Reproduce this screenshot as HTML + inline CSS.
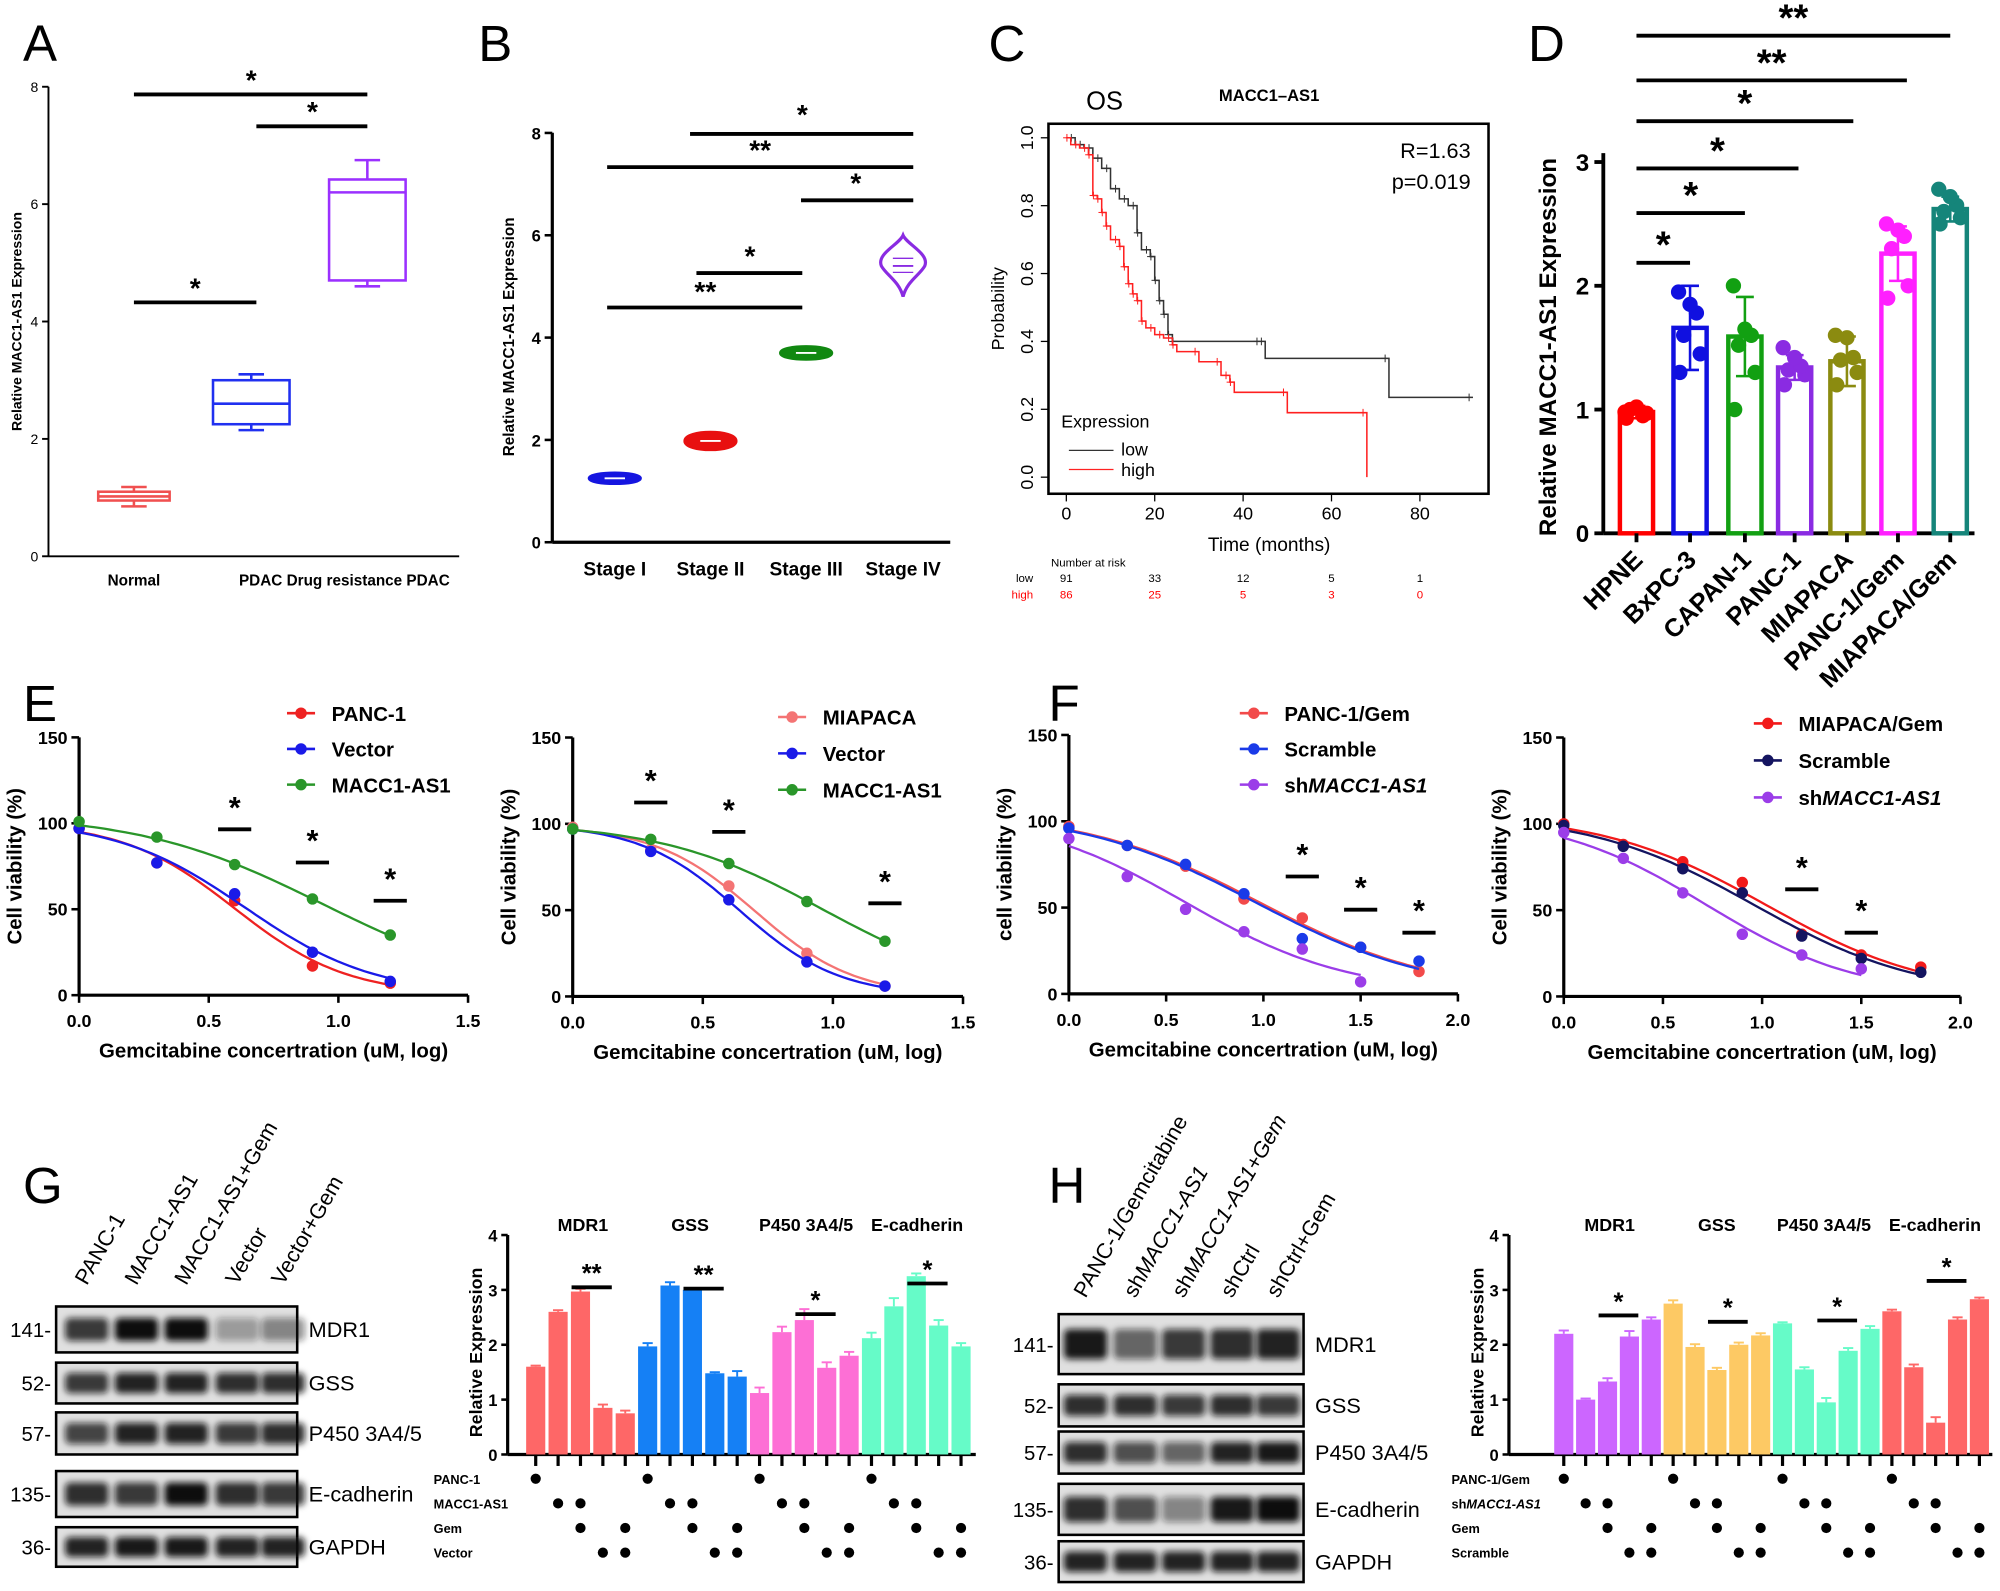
<!DOCTYPE html>
<html><head><meta charset="utf-8"><style>
html,body{margin:0;padding:0;background:#fff;}
svg{display:block;font-family:"Liberation Sans",Arial,sans-serif;}
</style></head><body>
<svg id="fig" width="2000" height="1591" viewBox="0 0 1568 1247" preserveAspectRatio="none" xmlns="http://www.w3.org/2000/svg">
<defs><filter id="blur" x="-20%" y="-50%" width="140%" height="200%"><feGaussianBlur stdDeviation="2.5"/></filter></defs>
</svg>
<script>
// ---------- DATA ----------
const boxCats=["Normal","PDAC","Drug resistance PDAC"];
const boxMin=[0.85,2.15,4.6],boxQ1=[0.95,2.25,4.7],boxMed=[1.02,2.6,6.2],boxQ3=[1.1,3.0,6.42],boxMax=[1.18,3.1,6.75];
const violinCats=["Stage I","Stage II","Stage III","Stage IV"];
const violinVals=[1.25,1.98,3.7,5.4];
const violinSpread=[0.1,0.2,0.13,0.55];
const kmLowT=[0,2,4,6,8,10,12,14,16,17,19,20,21,22,23,24,25,44,45,73,92];
const kmLowS=[1,0.98,0.97,0.94,0.91,0.85,0.82,0.8,0.72,0.67,0.65,0.58,0.52,0.48,0.42,0.4,0.4,0.4,0.35,0.235,0.235];
const kmHighT=[0,1,3,5,6,7,8,9,10,12,13,14,15,16,17,18,20,22,24,25,30,35,37,38,50,68];
const kmHighS=[1,0.98,0.97,0.95,0.83,0.82,0.78,0.74,0.7,0.68,0.62,0.57,0.54,0.52,0.46,0.44,0.42,0.41,0.39,0.37,0.34,0.3,0.28,0.25,0.19,0.0];
const dCats=["HPNE","BxPC-3","CAPAN-1","PANC-1","MIAPACA","PANC-1/Gem","MIAPACA/Gem"];
const dMeans=[0.98,1.66,1.59,1.34,1.39,2.26,2.62];
const dErr=[0.05,0.34,0.32,0.1,0.2,0.22,0.1];
const dPts=[[0.93,0.97,1.0,0.95,1.02,0.98],[1.3,1.45,1.6,1.78,1.85,1.95],[1.0,1.3,1.52,1.6,1.65,2.0],[1.2,1.28,1.32,1.35,1.42,1.5],[1.2,1.3,1.4,1.42,1.58,1.6],[1.9,2.0,2.3,2.4,2.45,2.5],[2.5,2.55,2.6,2.65,2.72,2.78]];
const dColors=["#ff0000","#1010e0","#12a012","#8a2be2","#8b8b10","#ff20ff","#15857a"];
const e1X=[0,0.3,0.6,0.9,1.2];
const e1Panc=[97,77,55,17,7],e1Vec=[97,77,59,25,8],e1Macc=[101,92,76,56,35];
const e2X=[0,0.3,0.6,0.9,1.2];
const e2Mia=[98,85,64,25,6],e2Vec=[97,84,56,20,6],e2Macc=[97,91,77,55,32];
const f1X=[0,0.3,0.6,0.9,1.2,1.5,1.8];
const f1Panc=[97,86,74,55,44,27,13],f1Scr=[96,86,75,58,32,27,19],f1ShX=[0,0.3,0.6,0.9,1.2,1.5],f1Sh=[90,68,49,36,26,7];
const f2X=[0,0.3,0.6,0.9,1.2,1.5,1.8];
const f2Mia=[100,88,78,66,36,24,17],f2Scr=[99,87,74,60,35,22,14],f2ShX=[0,0.3,0.6,0.9,1.2,1.5],f2Sh=[95,80,60,36,24,16];
const gVals=[1.6,2.6,2.97,0.85,0.75, 1.97,3.08,3.0,1.48,1.42, 1.12,2.23,2.45,1.58,1.8, 2.12,2.7,3.25,2.35,1.97];
const gErr=[0.02,0.03,0.05,0.06,0.05, 0.06,0.06,0.01,0.02,0.1, 0.1,0.1,0.2,0.1,0.07, 0.1,0.15,0.05,0.1,0.06];
const gColors=["#fe6767","#1580f5","#fd6fd5","#66fbc8"];
const hVals=[2.2,1.0,1.33,2.15,2.46, 2.75,1.96,1.54,2.0,2.17, 2.39,1.55,0.95,1.89,2.29, 2.61,1.59,0.58,2.46,2.83];
const hErr=[0.06,0.02,0.06,0.1,0.04, 0.06,0.05,0.04,0.04,0.04, 0.02,0.04,0.08,0.05,0.05, 0.03,0.05,0.1,0.04,0.03];
const hColors=["#cc66ff","#fdc964","#66fbc8","#fe6767"];
const gBandNames=["MDR1","GSS","P450 3A4/5","E-cadherin","GAPDH"];
const gMW=["141-","52-","57-","135-","36-"];
const gInt=[[0.8,1,1,0.35,0.45],[0.8,0.9,0.9,0.85,0.85],[0.75,0.9,0.9,0.8,0.85],[0.85,0.8,1,0.85,0.8],[0.9,0.95,0.95,0.9,0.9]];
const hInt=[[0.95,0.6,0.8,0.85,0.9],[0.85,0.85,0.8,0.85,0.8],[0.85,0.7,0.6,0.9,0.95],[0.85,0.7,0.45,0.95,1],[0.9,0.9,0.9,0.9,0.9]];

// ---------- HELPERS ----------
const S=document.getElementById('fig');const NS="http://www.w3.org/2000/svg";
function mk(tag,at,name,inter){const el=document.createElementNS(NS,tag);for(const k in at)el.setAttribute(k,at[k]);


S.appendChild(el);return el;}
function line(x1,y1,x2,y2,w,c,n){return mk('line',{x1,y1,x2,y2,stroke:c||'#000','stroke-width':w||2},n||'axis-line');}
function txt(x,y,s,sz,o,n){o=o||{};const a={x,y,'font-size':sz,'font-weight':o.w||'bold',fill:o.c||'#000','text-anchor':o.a||'middle'};
if(o.r!==undefined)a.transform=`rotate(${o.r} ${x} ${y})`;if(o.i)a['font-style']='italic';const t=mk('text',a,n||'label');t.textContent=s;return t;}
function star(x,y,x1,x2,ly,s,sz,n){line(x1,ly,x2,ly,3,'#000',n+'-bar');txt(x,y,s,sz||22,{},n);}
function letter(x,y,s){txt(x,y,s,40,{w:'normal',a:'start'},'panel-letter-'+s.toLowerCase());}

// ---------- A ----------
letter(18,48,"A");
(function(){const ax=38,y0=436,sy=46,Y=v=>y0-v*sy;
line(ax,68,ax,y0,1.5);line(ax,y0,360,y0,1.5);
[0,2,4,6,8].forEach(v=>{line(ax-5,Y(v),ax,Y(v),1.5,'#000','y-tick');txt(ax-8,Y(v)+4,v,11,{a:'end',w:'normal'},'y-tick-label');});
txt(17,252,"Relative MACC1-AS1 Expression",11,{r:-90},'y-axis-title');
const xs=[105,197,288],cs=["#f05050","#2030f0","#9b30ff"];
boxCats.forEach((c,i)=>{const x=xs[i],w=i==0?28:30;
line(x,Y(boxMin[i]),x,Y(boxQ1[i]),2,cs[i],'whisker');line(x,Y(boxQ3[i]),x,Y(boxMax[i]),2,cs[i],'whisker');
line(x-10,Y(boxMin[i]),x+10,Y(boxMin[i]),2,cs[i],'whisker-cap');line(x-10,Y(boxMax[i]),x+10,Y(boxMax[i]),2,cs[i],'whisker-cap');
mk('rect',{x:x-w,y:Y(boxQ3[i]),width:2*w,height:Y(boxQ1[i])-Y(boxQ3[i]),fill:'none',stroke:cs[i],'stroke-width':2},'box-'+i);
line(x-w,Y(boxMed[i]),x+w,Y(boxMed[i]),2,cs[i],'median');});
txt(105,459,"Normal",12,{},'x-label');txt(270,459,"PDAC  Drug resistance PDAC",12,{},'x-label');
star(197,70,105,288,74,"*",22,'sig-a1');star(245,95,201,288,99,"*",22,'sig-a2');star(153,233,105,201,237,"*",22,'sig-a3');})();

// ---------- B ----------
letter(375,48,"B");
(function(){const ax=433,y0=425,sy=40.1,Y=v=>y0-v*sy;
line(ax,104,ax,y0,2.5);line(ax,y0,745,y0,2.5);
[0,2,4,6,8].forEach(v=>{line(ax-6,Y(v),ax,Y(v),2,'#000','y-tick');txt(ax-9,Y(v)+5,v,13,{a:'end'},'y-tick-label');});
txt(403,264,"Relative MACC1-AS1 Expression",12,{r:-90},'y-axis-title');
const xs=[482,557,632,708],cs=["#1515e0","#e81010","#118811","#8a2be2"];
violinCats.forEach((c,i)=>{const x=xs[i],v=violinVals[i],sp=violinSpread[i];
const h=sp*sy+2,w=i==3?17:20,cy=Y(v);
let d;
if(i<3){d=`M${x-w},${cy} C${x-w},${cy-h*0.9} ${x+w},${cy-h*0.9} ${x+w},${cy} C${x+w},${cy+h*0.9} ${x-w},${cy+h*0.9} ${x-w},${cy}Z`;}
else{d=`M${x},${cy-h} C${x+3},${cy-h*0.7} ${x+w+4},${cy-h*0.4} ${x+w},${cy} C${x+w-4},${cy+h*0.3} ${x+3},${cy+h*0.5} ${x},${cy+h} C${x-3},${cy+h*0.5} ${x-w+4},${cy+h*0.3} ${x-w},${cy} C${x-w-4},${cy-h*0.4} ${x-3},${cy-h*0.7} ${x},${cy-h}Z`;}
mk('path',{d,fill:i==3?'#fff':cs[i],stroke:cs[i],'stroke-width':2.5},'violin-'+i);
line(x-8,cy,x+8,cy,1.5,i==3?cs[i]:'#fff','violin-median');
if(i==3){line(x-8,cy-6,x+8,cy-6,1,cs[i],'violin-quartile');line(x-8,cy+5,x+8,cy+5,1,cs[i],'violin-quartile');}
txt(x,451,c,15,{},'x-label');});
star(629,97,541,716,105,"*",22,'sig-b1');star(596,125,476,716,131,"**",22,'sig-b2');star(671,151,628,716,157,"*",22,'sig-b3');star(588,208,546,629,214,"*",22,'sig-b4');star(553,236,476,629,241,"**",22,'sig-b5');})();

// ---------- C ----------
letter(775,48,"C");
(function(){const X=t=>836+t*3.465,Y=p=>374-p*266;
mk('rect',{x:822,y:97,width:345,height:290,fill:'none',stroke:'#000','stroke-width':2},'km-frame');
[0,20,40,60,80].forEach(t=>{line(X(t),387,X(t),393,1,'#000','x-tick');txt(X(t),407,t,14,{w:'normal'},'x-tick-label');});
[0,0.2,0.4,0.6,0.8,1.0].forEach(p=>{line(816,Y(p),822,Y(p),1,'#000','y-tick');txt(810,Y(p),p.toFixed(1),14,{w:'normal',r:-90},'y-tick-label');});
txt(995,432,"Time (months)",15,{w:'normal'},'x-axis-title');txt(787,242,"Probability",14,{w:'normal',r:-90},'y-axis-title');
txt(866,86,"OS",20,{w:'normal'},'os-label');txt(995,79,"MACC1–AS1",13,{},'chart-title');
txt(1153,124,"R=1.63",17,{w:'normal',a:'end'},'hazard-ratio');txt(1153,148,"p=0.019",17,{w:'normal',a:'end'},'p-value');
function steps(T,Sv,c,n){let d=`M${X(T[0])},${Y(Sv[0])}`;for(let i=1;i<T.length;i++){d+=` H${X(T[i])} V${Y(Sv[i])}`;}
mk('path',{d,fill:'none',stroke:c,'stroke-width':1.2},n);
for(let i=1;i<T.length;i++){const x=X(T[i])-3;line(x-3,Y(Sv[i-1]),x+3,Y(Sv[i-1]),0.8,c,'censor');line(x,Y(Sv[i-1])-3,x,Y(Sv[i-1])+3,0.8,c,'censor');}}
steps(kmLowT,kmLowS,'#333','km-low');steps(kmHighT,kmHighS,'#ff2020','km-high');
txt(832,335,"Expression",14,{w:'normal',a:'start'},'legend-title');
line(838,353,873,353,1,'#333','legend-low-line');txt(879,357,"low",14,{w:'normal',a:'start'},'legend-low');
line(838,368,873,368,1,'#f22','legend-high-line');txt(879,373,"high",14,{w:'normal',a:'start'},'legend-high');
txt(824,444,"Number at risk",9,{w:'normal',a:'start'},'risk-title');
const low=[91,33,12,5,1],high=[86,25,5,3,0];
txt(810,456,"low",9,{w:'normal',a:'end'},'risk-low-label');txt(810,469,"high",9,{w:'normal',a:'end',c:'#f00'},'risk-high-label');
[0,20,40,60,80].forEach((t,i)=>{txt(X(t),456,low[i],9,{w:'normal'},'risk-low');txt(X(t),469,high[i],9,{w:'normal',c:'#f00'},'risk-high');});})();

// ---------- D ----------
letter(1198,48,"D");
(function(){const ax=1257,y0=418,sy=97,Y=v=>y0-v*sy,xs=[1283,1325,1368,1407,1448,1488,1529];
line(ax,120,ax,y0,3);line(ax,y0,1548,y0,3);
[0,1,2,3].forEach(v=>{line(ax-7,Y(v),ax,Y(v),3,'#000','y-tick');txt(ax-11,Y(v)+7,v,19,{a:'end'},'y-tick-label');});
txt(1220,272,"Relative MACC1-AS1 Expression",19,{r:-90},'y-axis-title');
dCats.forEach((c,i)=>{const x=xs[i],col=dColors[i];
mk('rect',{x:x-13,y:Y(dMeans[i]),width:26,height:Y(0)-Y(dMeans[i]),fill:'#fff',stroke:col,'stroke-width':3.5},'bar-'+c);
line(x,Y(dMeans[i]-dErr[i]),x,Y(dMeans[i]+dErr[i]),2,col,'error-bar');line(x-7,Y(dMeans[i]+dErr[i]),x+7,Y(dMeans[i]+dErr[i]),2,col,'error-cap');line(x-7,Y(dMeans[i]-dErr[i]),x+7,Y(dMeans[i]-dErr[i]),2,col,'error-cap');
dPts[i].forEach((p,j)=>mk('circle',{cx:x+[-8,8,-5,5,0,-9][j],cy:Y(p),r:6,fill:col},'point'));
line(x,y0,x,y0+7,3,'#000','x-tick');
txt(x+6,y0+22,c,20,{a:'end',r:-45},'x-label');});
const ends=[1325,1368,1410,1453,1495,1529],ys=[206,167,132,95,63,28],ss=["*","*","*","*","**","**"];
ends.forEach((e,i)=>star((1283+e)/2,ys[i]-4,1283,e,ys[i],ss[i],30,'sig-d'+i));})();

// ---------- E/F curves ----------
function fitLogistic(xs,ys){let best=null;
for(let top=85;top<=106;top+=1)for(let x50=0.3;x50<=1.6;x50+=0.02)for(let k=1;k<=8;k+=0.2){
let e=0;for(let i=0;i<xs.length;i++){const p=top/(1+Math.exp(k*(xs[i]-x50)));e+=(p-ys[i])**2;}
if(!best||e<best.e)best={e,top,x50,k};}return best;}
function curvePanel(o){const X=v=>o.x0+v*o.sx,Y=v=>o.y0-v*o.sy;
line(o.x0,o.y0,o.x0,Y(150),2.5);line(o.x0,o.y0,X(o.xmax),o.y0,2.5);
[0,50,100,150].forEach(v=>{line(o.x0-6,Y(v),o.x0,Y(v),2,'#000','y-tick');txt(o.x0-9,Y(v)+5,v,14,{a:'end'},'y-tick-label');});
o.xt.forEach(v=>{line(X(v),o.y0,X(v),o.y0+6,2,'#000','x-tick');txt(X(v),o.y0+25,v.toFixed(1),14,{},'x-tick-label');});
txt((o.x0+X(o.xmax))/2,o.y0+49,"Gemcitabine concertration (uM, log)",16,{},'x-axis-title');
txt(o.x0-45,Y(75),o.ytitle,16,{r:-90},'y-axis-title');
o.series.forEach((s,k)=>{const xs=s.x,ys=s.y;const f=fitLogistic(xs,ys);const xe=xs[xs.length-1];
let d='';for(let j=0;j<=60;j++){const xv=xe*j/60;const yv=f.top/(1+Math.exp(f.k*(xv-f.x50)));d+=(j?' L':'M')+X(xv).toFixed(1)+','+Y(yv).toFixed(1);}
mk('path',{d,fill:'none',stroke:s.c,'stroke-width':1.8},'curve-'+s.n);
xs.forEach((x,i)=>mk('circle',{cx:X(x),cy:Y(ys[i]),r:4.5,fill:s.c},'point-'+s.n));
const ly=o.leg[1]+k*o.leg[2];line(o.leg[0],ly,o.leg[0]+22,ly,2,s.c,'legend-line');mk('circle',{cx:o.leg[0]+11,cy:ly,r:4.5,fill:s.c},'legend-marker');
const t=txt(o.leg[0]+35,ly+6,s.lab,16,{a:'start'},'legend-entry');if(s.sh){t.textContent='sh';const ts=document.createElementNS(NS,'tspan');ts.setAttribute('font-style','italic');ts.textContent='MACC1-AS1';t.appendChild(ts);}});
o.stars.forEach((st,i)=>star(X(st[0]),st[1],X(st[0])-13,X(st[0])+13,st[1]+9,"*",24,'sig-curve'));}
letter(18,565,"E");letter(822,565,"F");
curvePanel({x0:62,y0:780,sx:203.3,sy:1.347,xmax:1.5,xt:[0,0.5,1,1.5],ytitle:"Cell viability  (%)",leg:[225,559,28],
series:[{x:e1X,y:e1Panc,c:'#ee2222',n:'panc1',lab:'PANC-1'},{x:e1X,y:e1Vec,c:'#1a1ae8',n:'vector',lab:'Vector'},{x:e1X,y:e1Macc,c:'#2a962a',n:'macc1',lab:'MACC1-AS1'}],
stars:[[0.6,641],[0.9,667],[1.2,697]]});
curvePanel({x0:449,y0:781,sx:204,sy:1.353,xmax:1.5,xt:[0,0.5,1,1.5],ytitle:"Cell viability  (%)",leg:[610,562,28.5],
series:[{x:e2X,y:e2Mia,c:'#f47474',n:'miapaca',lab:'MIAPACA'},{x:e2X,y:e2Vec,c:'#1a1ae8',n:'vector',lab:'Vector'},{x:e2X,y:e2Macc,c:'#2a962a',n:'macc1',lab:'MACC1-AS1'}],
stars:[[0.3,620],[0.6,643],[1.2,699]]});
curvePanel({x0:838,y0:779,sx:152.5,sy:1.353,xmax:2.0,xt:[0,0.5,1,1.5,2],ytitle:"cell viability  (%)",leg:[972,559,28],
series:[{x:f1X,y:f1Panc,c:'#f24a4a',n:'panc1gem',lab:'PANC-1/Gem'},{x:f1X,y:f1Scr,c:'#1a3ae8',n:'scramble',lab:'Scramble'},{x:f1ShX,y:f1Sh,c:'#9b3de8',n:'sh',lab:'shMACC1-AS1',sh:1}],
stars:[[1.2,678],[1.5,704],[1.8,722]]});
curvePanel({x0:1226,y0:781,sx:155.5,sy:1.353,xmax:2.0,xt:[0,0.5,1,1.5,2],ytitle:"Cell viability  (%)",leg:[1375,567,29],
series:[{x:f2X,y:f2Mia,c:'#f21a1a',n:'miapacagem',lab:'MIAPACA/Gem'},{x:f2X,y:f2Scr,c:'#141460',n:'scramble',lab:'Scramble'},{x:f2ShX,y:f2Sh,c:'#9b3de8',n:'sh',lab:'shMACC1-AS1',sh:1}],
stars:[[1.2,688],[1.5,722]]});

// ---------- blots ----------
function blot(o){o.rows.forEach((r,ri)=>{const y=r[0],h=r[1];
mk('rect',{x:o.x,y,width:o.w,height:h,fill:'#e0e0e0',stroke:'#000','stroke-width':2},'blot-'+o.names[ri]);
o.lanes.forEach((lx,li)=>{const v=o.int[ri][li];mk('rect',{x:lx-o.lw/2,y:y+h*0.25,width:o.lw,height:h*0.5,rx:4,fill:'#111','fill-opacity':v,filter:'url(#blur)'},'band');});
txt(o.x+o.w+9,y+h/2+6,o.names[ri],17,{w:'normal',a:'start'},'band-label');
txt(o.x-4,y+h/2+6,o.mw[ri],16,{w:'normal',a:'end'},'mw-marker');});
o.lanes.forEach((lx,li)=>{const t=txt(lx,o.ly,'',17,{w:'normal',a:'start',r:-60},'lane-label');o.lab[li].forEach(p=>{const s=document.createElementNS(NS,'tspan');if(p[1])s.setAttribute('font-style','italic');s.textContent=p[0];t.appendChild(s);});});}
letter(18,943,"G");letter(822,943,"H");
blot({x:44,w:189,rows:[[1024,36],[1068,32],[1107,33],[1153,36],[1197,31]],lanes:[68,107,146,186,222],lw:34,int:gInt,names:gBandNames,mw:gMW,ly:1008,
lab:[[["PANC-1"]],[["MACC1-AS1"]],[["MACC1-AS1+Gem"]],[["Vector"]],[["Vector+Gem"]]]});
blot({x:830,w:192,rows:[[1030,47],[1085,33],[1122,33],[1163,40],[1208,32]],lanes:[851,890,928,966,1002],lw:34,int:hInt,names:gBandNames,mw:gMW,ly:1018,
lab:[[["PANC-1/Gemcitabine"]],[["sh"],["MACC1-AS1",1]],[["sh"],["MACC1-AS1+Gem",1]],[["shCtrl"]],[["shCtrl+Gem"]]]});

// ---------- bar panels G/H ----------
function barPanel(o){const y0=1140,sy=43,Y=v=>y0-v*sy,X=i=>o.bx0+i*o.p;
line(o.ax,y0,o.ax,968,2.5);line(o.ax,y0,o.ax2,y0,2.5);
[0,1,2,3,4].forEach(v=>{line(o.ax-5,Y(v),o.ax,Y(v),2,'#000','y-tick');txt(o.ax-8,Y(v)+5,v,13,{a:'end'},'y-tick-label');});
txt(o.ax-20,1060,"Relative Expression",14,{r:-90},'y-axis-title');
o.vals.forEach((v,i)=>{const c=o.cols[Math.floor(i/5)];
mk('rect',{x:X(i)-7.5,y:Y(v),width:15,height:Y(0)-Y(v),fill:c},'bar');
line(X(i),Y(v),X(i),Y(v+o.err[i]),1.5,c,'error-bar');line(X(i)-4,Y(v+o.err[i]),X(i)+4,Y(v+o.err[i]),1.5,c,'error-cap');
line(X(i),y0,X(i),y0+9,2.5,'#000','x-tick');
const g=i%5;const rows=[[g==0],[g==1||g==2],[g==2||g==4],[g==3||g==4]];
rows.forEach((on,r)=>{if(on[0])mk('circle',{cx:X(i),cy:1159+r*19.3,r:4,fill:'#000'},'condition-dot');});});
o.rowlab.forEach((l,r)=>{const t=txt(o.lx,1163+r*19.3,'',10,{a:'start'},'condition-label');l.forEach(p=>{const s=document.createElementNS(NS,'tspan');if(p[1])s.setAttribute('font-style','italic');s.textContent=p[0];t.appendChild(s);});});
["MDR1","GSS","P450 3A4/5","E-cadherin"].forEach((n,k)=>txt(o.gx[k],o.gy,n,14,{},'group-title'));
o.sig.forEach((s,k)=>star((X(s[0])+X(s[1]))/2,s[2]-4,X(s[0])-7,X(s[1])+7,s[2],s[3],20,'sig-bar'));}
barPanel({ax:398,ax2:765,bx0:420,p:17.55,vals:gVals,err:gErr,cols:gColors,lx:340,
rowlab:[[["PANC-1"]],[["MACC1-AS1"]],[["Gem"]],[["Vector"]]],gx:[457,541,632,719],gy:965,
sig:[[2,3,1009,"**"],[7,8,1010,"**"],[12,13,1030,"*"],[17,18,1006,"*"]]});
barPanel({ax:1183,ax2:1562,bx0:1226,p:17.15,vals:hVals,err:hErr,cols:hColors,lx:1138,
rowlab:[[["PANC-1/Gem"]],[["sh"],["MACC1-AS1",1]],[["Gem"]],[["Scramble"]]],gx:[1262,1346,1430,1517],gy:965,
sig:[[2,3,1031,"*"],[7,8,1036,"*"],[12,13,1035,"*"],[17,18,1004,"*"]]});
</script>
</body></html>
